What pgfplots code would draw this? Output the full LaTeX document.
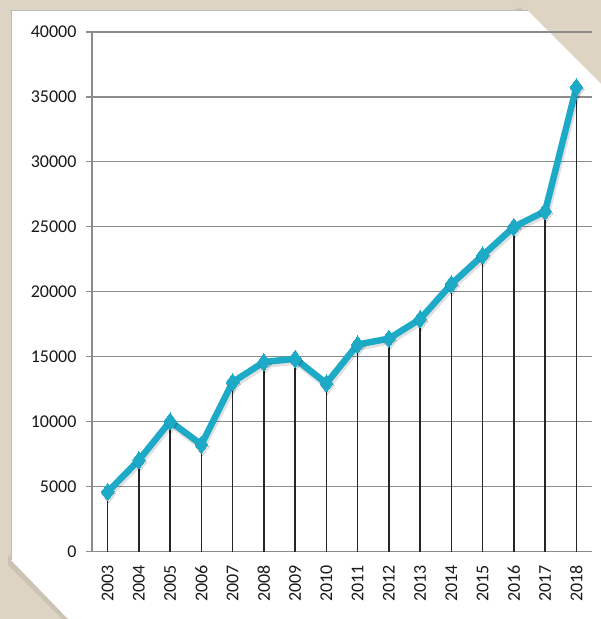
\documentclass[border=0pt]{standalone}
\usepackage{pgfplots}
\usepackage{pgfplotstable}
\pgfplotsset{compat=1.18}
\usepackage{fontspec}
\setmainfont{Carlito}

\definecolor{paper}{RGB}{222,212,196}
\definecolor{lineblue}{RGB}{28,170,198}
\definecolor{gridgray}{RGB}{140,140,140}
\definecolor{labelgray}{RGB}{25,25,25}

\pgfplotstableread{
year value
2003 4600
2004 7050
2005 10030
2006 8250
2007 13050
2008 14600
2009 14850
2010 12950
2011 15950
2012 16400
2013 17900
2014 20600
2015 22800
2016 25000
2017 26200
2018 35750
}\datatable

\begin{document}
\begin{tikzpicture}
\useasboundingbox (0pt,0pt) rectangle (601pt,619pt);
% paper background and white card with folded corners
\fill[paper] (0pt,0pt) rectangle (601pt,619pt);
\fill[black, opacity=0.08]
  (520pt,612pt) -- (601pt,531pt) -- (601pt,520pt) -- (513pt,608pt) -- cycle;
\fill[black, opacity=0.08]
  (8pt,64pt) -- (75pt,-2pt) -- (64pt,-2pt) -- (8pt,54pt) -- cycle;
\fill[white]
  (11pt,59pt) -- (11pt,608pt) -- (528pt,608pt) -- (601pt,535pt)
  -- (601pt,-2pt) -- (70pt,-2pt) -- cycle;
\draw[gray!55, line width=1pt] (11pt,59pt) -- (11pt,608pt) -- (528pt,608pt);

\begin{axis}[
    at={(92pt,67.3pt)}, anchor=south west,
    scale only axis, width=500pt, height=519.7pt,
    xmin=2002.5, xmax=2018.5, ymin=0, ymax=40000,
    xtick={2003,2004,...,2018},
    ytick={0,5000,...,40000},
    ymajorgrids=true,
    grid style={gridgray, line width=1.1pt},
    axis x line*=bottom, axis y line*=left,
    axis line style={gridgray, line width=1.1pt, -},
    tick align=outside, major tick length=6pt,
    x tick style={draw=none},
    y tick style={gridgray, line width=1.1pt},
    /pgf/number format/1000 sep={},
    /pgf/number format/assume math mode=true,
    tick label style={font=\fontsize{18}{18}\selectfont, text=labelgray},
    xticklabel style={rotate=90, anchor=east, xshift=-4pt},
    yticklabel style={xshift=-6pt},
    scaled y ticks=false,
    clip=false,
]
\addplot[ycomb, draw=black!85, line width=1.4pt, no marks]
  table[x=year, y=value]{\datatable};
% soft shadow under the line
\addplot[black, opacity=0.12, line width=8pt, line join=round,
    yshift=-2pt, xshift=1pt,
    mark=diamond*, mark size=9pt,
    mark options={fill=black, draw=black, line width=0pt}]
  table[x=year, y=value]{\datatable};
\addplot[lineblue, line width=6.5pt, line join=round,
    mark=diamond*, mark size=8.5pt,
    mark options={fill=lineblue, draw=lineblue, line width=0pt}]
  table[x=year, y=value]{\datatable};
\end{axis}
\end{tikzpicture}
\end{document}
